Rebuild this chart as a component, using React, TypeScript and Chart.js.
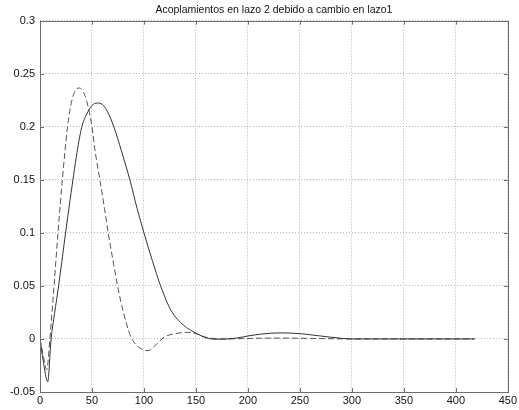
import { useEffect, useRef } from "react";
import { Chart, registerables } from "chart.js";

Chart.register(...registerables);

const TITLE = "Acoplamientos en lazo 2 debido a cambio en lazo1";

const X_TICKS = [0, 50, 100, 150, 200, 250, 300, 350, 400, 450];
const Y_TICKS = [-0.05, 0, 0.05, 0.1, 0.15, 0.2, 0.25, 0.3];

// Response in loop 2 (solid trace)
const SOLID_T = [
  0, 3, 7.4, 10.7, 14, 17.9, 21, 24.6, 28.5, 31.4, 35, 40, 45, 50, 55, 60, 65, 71,
  78.4, 86.4, 93.4, 100, 108, 116, 126, 138, 150, 160, 170, 180, 190, 200, 214, 230,
  250, 268, 290, 300, 320, 350, 380, 418,
];
const SOLID_V = [
  0, -0.02, -0.0403, 0, 0.024, 0.05, 0.073, 0.1, 0.128, 0.148, 0.172, 0.199, 0.212,
  0.22, 0.2223, 0.221, 0.214, 0.2, 0.177, 0.15, 0.123, 0.1, 0.074, 0.05, 0.027,
  0.013, 0.0055, 0.001, -0.0003, 0, 0.001, 0.0028, 0.0047, 0.0057, 0.005, 0.003,
  0.0006, 0, 0, 0, 0, 0,
];

// Response in loop 2 (dashed trace)
const DASHED_T = [
  0, 3, 6.5, 9.5, 13.5, 17.3, 21.5, 26.5, 30, 34, 37.7, 41, 45, 50, 53, 57.6,
  62, 65.6, 70, 74.6, 80, 87, 93, 100, 104, 110, 115, 120, 130, 142, 150, 160, 170,
  180, 200, 230, 260, 300, 350, 418,
];
const DASHED_V = [
  0, -0.015, -0.029, 0, 0.05, 0.1, 0.15, 0.2, 0.222, 0.234, 0.2365,
  0.234, 0.224, 0.2, 0.177, 0.15, 0.123, 0.1, 0.075, 0.05, 0.026, 0.003, -0.006,
  -0.0105, -0.011, -0.007, -0.002, 0.002, 0.005, 0.0062, 0.005, 0.0015, 0.0003, 0,
  0.0005, 0.0008, 0.0005, 0, 0, 0,
];

const FONT = "'Liberation Sans', Arial, Helvetica, sans-serif";

const toPoints = (t: number[], v: number[]) => t.map((x, i) => ({ x, y: v[i] }));

const fmt = (v: number) => String(Number(v.toFixed(2)));

// Box around the axes with short inward tick marks on all four sides
const framePlugin = {
  id: "frame",
  afterDraw(chart: any) {
    const { ctx, chartArea: a, scales } = chart;
    const xs = scales.x;
    const ys = scales.y;
    ctx.save();
    ctx.strokeStyle = "#6e6e6e";
    ctx.lineWidth = 1;
    ctx.beginPath();
    const L = 4;
    X_TICKS.forEach((t) => {
      const px = Math.round(xs.getPixelForValue(t)) + 0.5;
      ctx.moveTo(px, a.bottom);
      ctx.lineTo(px, a.bottom - L);
      ctx.moveTo(px, a.top);
      ctx.lineTo(px, a.top + L);
    });
    Y_TICKS.forEach((t) => {
      const py = Math.round(ys.getPixelForValue(t)) + 0.5;
      ctx.moveTo(a.left, py);
      ctx.lineTo(a.left + L, py);
      ctx.moveTo(a.right, py);
      ctx.lineTo(a.right - L, py);
    });
    ctx.stroke();
    ctx.strokeRect(
      Math.round(a.left) + 0.5,
      Math.round(a.top) + 0.5,
      Math.round(a.right - a.left),
      Math.round(a.bottom - a.top)
    );
    ctx.restore();
  },
};

export default function App() {
  const ref = useRef<HTMLCanvasElement | null>(null);

  useEffect(() => {
    if (!ref.current) return;
    const chart = new Chart(ref.current, {
      type: "line",
      data: {
        datasets: [
          {
            label: "solid",
            data: toPoints(SOLID_T, SOLID_V),
            borderColor: "#333333",
            borderWidth: 1,
            pointRadius: 0,
            cubicInterpolationMode: "monotone",
          },
          {
            label: "dashed",
            data: toPoints(DASHED_T, DASHED_V),
            borderColor: "#555555",
            borderWidth: 1,
            borderDash: [6, 3],
            pointRadius: 0,
            cubicInterpolationMode: "monotone",
          },
        ],
      },
      options: {
        animation: false,
        responsive: false,
        maintainAspectRatio: false,
        layout: { padding: { left: 0, right: 10, top: 0, bottom: 0 } },
        plugins: {
          legend: { display: false },
          tooltip: { enabled: false },
          title: {
            display: true,
            fullSize: false, // centred over the plot area rather than the canvas
            text: TITLE,
            color: "#111",
            font: { family: FONT, size: 10.5, weight: "normal" },
            padding: { top: 4, bottom: 4 },
          },
        },
        scales: {
          x: {
            type: "linear",
            min: 0,
            max: 450,
            afterBuildTicks: (s: any) => {
              s.ticks = X_TICKS.map((value) => ({ value }));
            },
            afterFit: (s: any) => {
              s.height = 18;
            },
            ticks: {
              color: "#111",
              font: { family: FONT, size: 11 },
              padding: 2,
              maxRotation: 0,
              autoSkip: false,
              callback: (v: any) => String(v),
            },
            grid: { color: "#b4b4b4", lineWidth: 1, drawTicks: false },
            border: { display: false, dash: [1, 2] },
          },
          y: {
            type: "linear",
            min: -0.05,
            max: 0.3,
            afterBuildTicks: (s: any) => {
              s.ticks = Y_TICKS.map((value) => ({ value }));
            },
            afterFit: (s: any) => {
              s.width = 40;
            },
            ticks: {
              color: "#111",
              font: { family: FONT, size: 11 },
              padding: 5,
              autoSkip: false,
              callback: (v: any) => fmt(Number(v)),
            },
            grid: { color: "#b4b4b4", lineWidth: 1, drawTicks: false },
            border: { display: false, dash: [1, 2] },
          },
        },
      },
      plugins: [framePlugin],
    });
    return () => chart.destroy();
  }, []);

  return (
    <div style={{ position: "fixed", left: 0, top: 0, width: 519, height: 410, background: "#fff" }}>
      <canvas ref={ref} width={519} height={410} />
    </div>
  );
}
